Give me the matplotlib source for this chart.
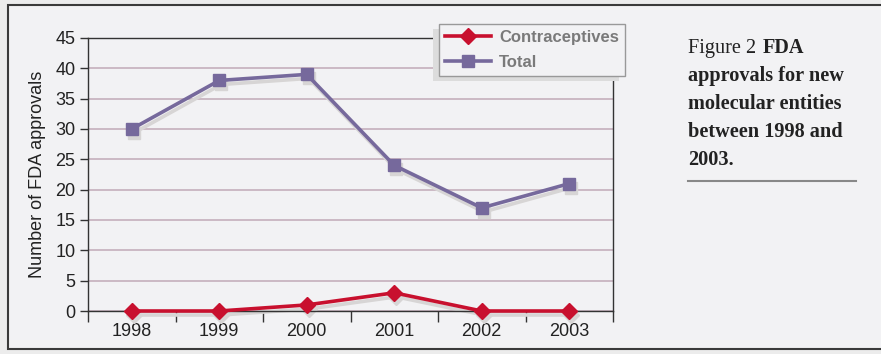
import numpy as np
import matplotlib.pyplot as plt
from matplotlib import transforms
from matplotlib.patches import Rectangle

years = ['1998', '1999', '2000', '2001', '2002', '2003']
contraceptives = [0, 0, 1, 3, 0, 0]
total = [30, 38, 39, 24, 17, 21]

W, H = 881, 354
fig = plt.figure(figsize=(W / 100, H / 100), dpi=100, facecolor='#ececec')

# outer panel with dark border
panel = Rectangle((8 / W, 5 / H), 1.0, 344 / H, transform=fig.transFigure,
                  facecolor='#f2f2f4', edgecolor='#3a3a3a', lw=1.5, zorder=-5)
fig.add_artist(panel)

ax = fig.add_axes([88 / W, 43 / H, 525 / W, 273 / H])
ax.patch.set_visible(False)

x = np.arange(len(years))
shadow_tr = transforms.offset_copy(ax.transData, fig=fig, x=2, y=-4, units='dots')

sh = '#d7d5d5'
ax.plot(x, total, color=sh, lw=2.6, marker='s', ms=9, transform=shadow_tr, zorder=2, clip_on=False)
ax.plot(x, contraceptives, color=sh, lw=2.6, marker='D', ms=8, transform=shadow_tr, zorder=2, clip_on=False)
l_tot, = ax.plot(x, total, color='#76699c', lw=2.6, marker='s', ms=9, label='Total', zorder=3, clip_on=False)
l_con, = ax.plot(x, contraceptives, color='#c8102e', lw=2.6, marker='D', ms=8, label='Contraceptives',
                 zorder=3, clip_on=False)

ax.set_xlim(-0.5, 5.5)
ax.set_ylim(0, 45)
ax.set_yticks(range(0, 46, 5))
ax.yaxis.grid(True, color='#c9b4c0', lw=1.3)
ax.set_axisbelow(True)

ax.set_xticks(np.arange(-0.5, 6, 1))
ax.set_xticklabels([])
ax.set_xticks(x, minor=True)
ax.set_xticklabels(years, minor=True)
ax.tick_params(axis='x', which='major', direction='out', length=8, width=1, color='#333333')
ax.tick_params(axis='x', which='minor', length=0, pad=9, labelsize=13, labelcolor='#222222')
ax.tick_params(axis='y', direction='out', length=6, width=1, color='#333333', pad=3,
               labelsize=13, labelcolor='#222222')
for tl in ax.get_xticklabels(minor=True) + ax.get_yticklabels():
    tl.set_family('Liberation Sans')

for s in ax.spines.values():
    s.set_color('#333333')
    s.set_linewidth(1)

ax.set_ylabel('Number of FDA approvals', fontsize=13, family='Liberation Sans', color='#222222')
ax.yaxis.set_label_coords(-0.08, 0.5)

leg = ax.legend(handles=[l_con, l_tot], loc='upper left', bbox_to_anchor=(439 / W, 1 - 24 / H),
                bbox_transform=fig.transFigure, fancybox=False, framealpha=1, facecolor='#f2f2f4',
                edgecolor='#999999', handlelength=2.75, borderpad=0.35, labelspacing=0.6,
                handletextpad=0.5, borderaxespad=0,
                prop={'family': 'Liberation Sans', 'weight': 'bold', 'size': 12})
leg.get_frame().set_linewidth(1)
for t in leg.get_texts():
    t.set_color('#7a7a7a')
leg.set_zorder(6)

fig.canvas.draw()
bb = leg.get_window_extent()
ax.add_patch(Rectangle((bb.x0 - 6, bb.y0 - 5), bb.width, bb.height, transform=transforms.IdentityTransform(),
                       facecolor='#dcdcdc', edgecolor='none', zorder=5.5, clip_on=False))

# caption
cap = dict(family='Liberation Serif', fontsize=14.6, color='#222222', va='baseline', ha='left')
fig.text(688 / W, 1 - 53 / H, 'Figure 2', **cap)
fig.text(763 / W, 1 - 53 / H, 'FDA', weight='bold', **cap)
for i, line in enumerate(['approvals for new', 'molecular entities', 'between 1998 and', '2003.']):
    fig.text(688 / W, 1 - (81 + 28 * i) / H, line, weight='bold', **cap)
fig.add_artist(plt.Line2D([688 / W, 856 / W], [1 - 181 / H, 1 - 181 / H], color='#888888', lw=1.5,
                          transform=fig.transFigure))

fig.savefig('out.png', dpi=100, facecolor=fig.get_facecolor())
